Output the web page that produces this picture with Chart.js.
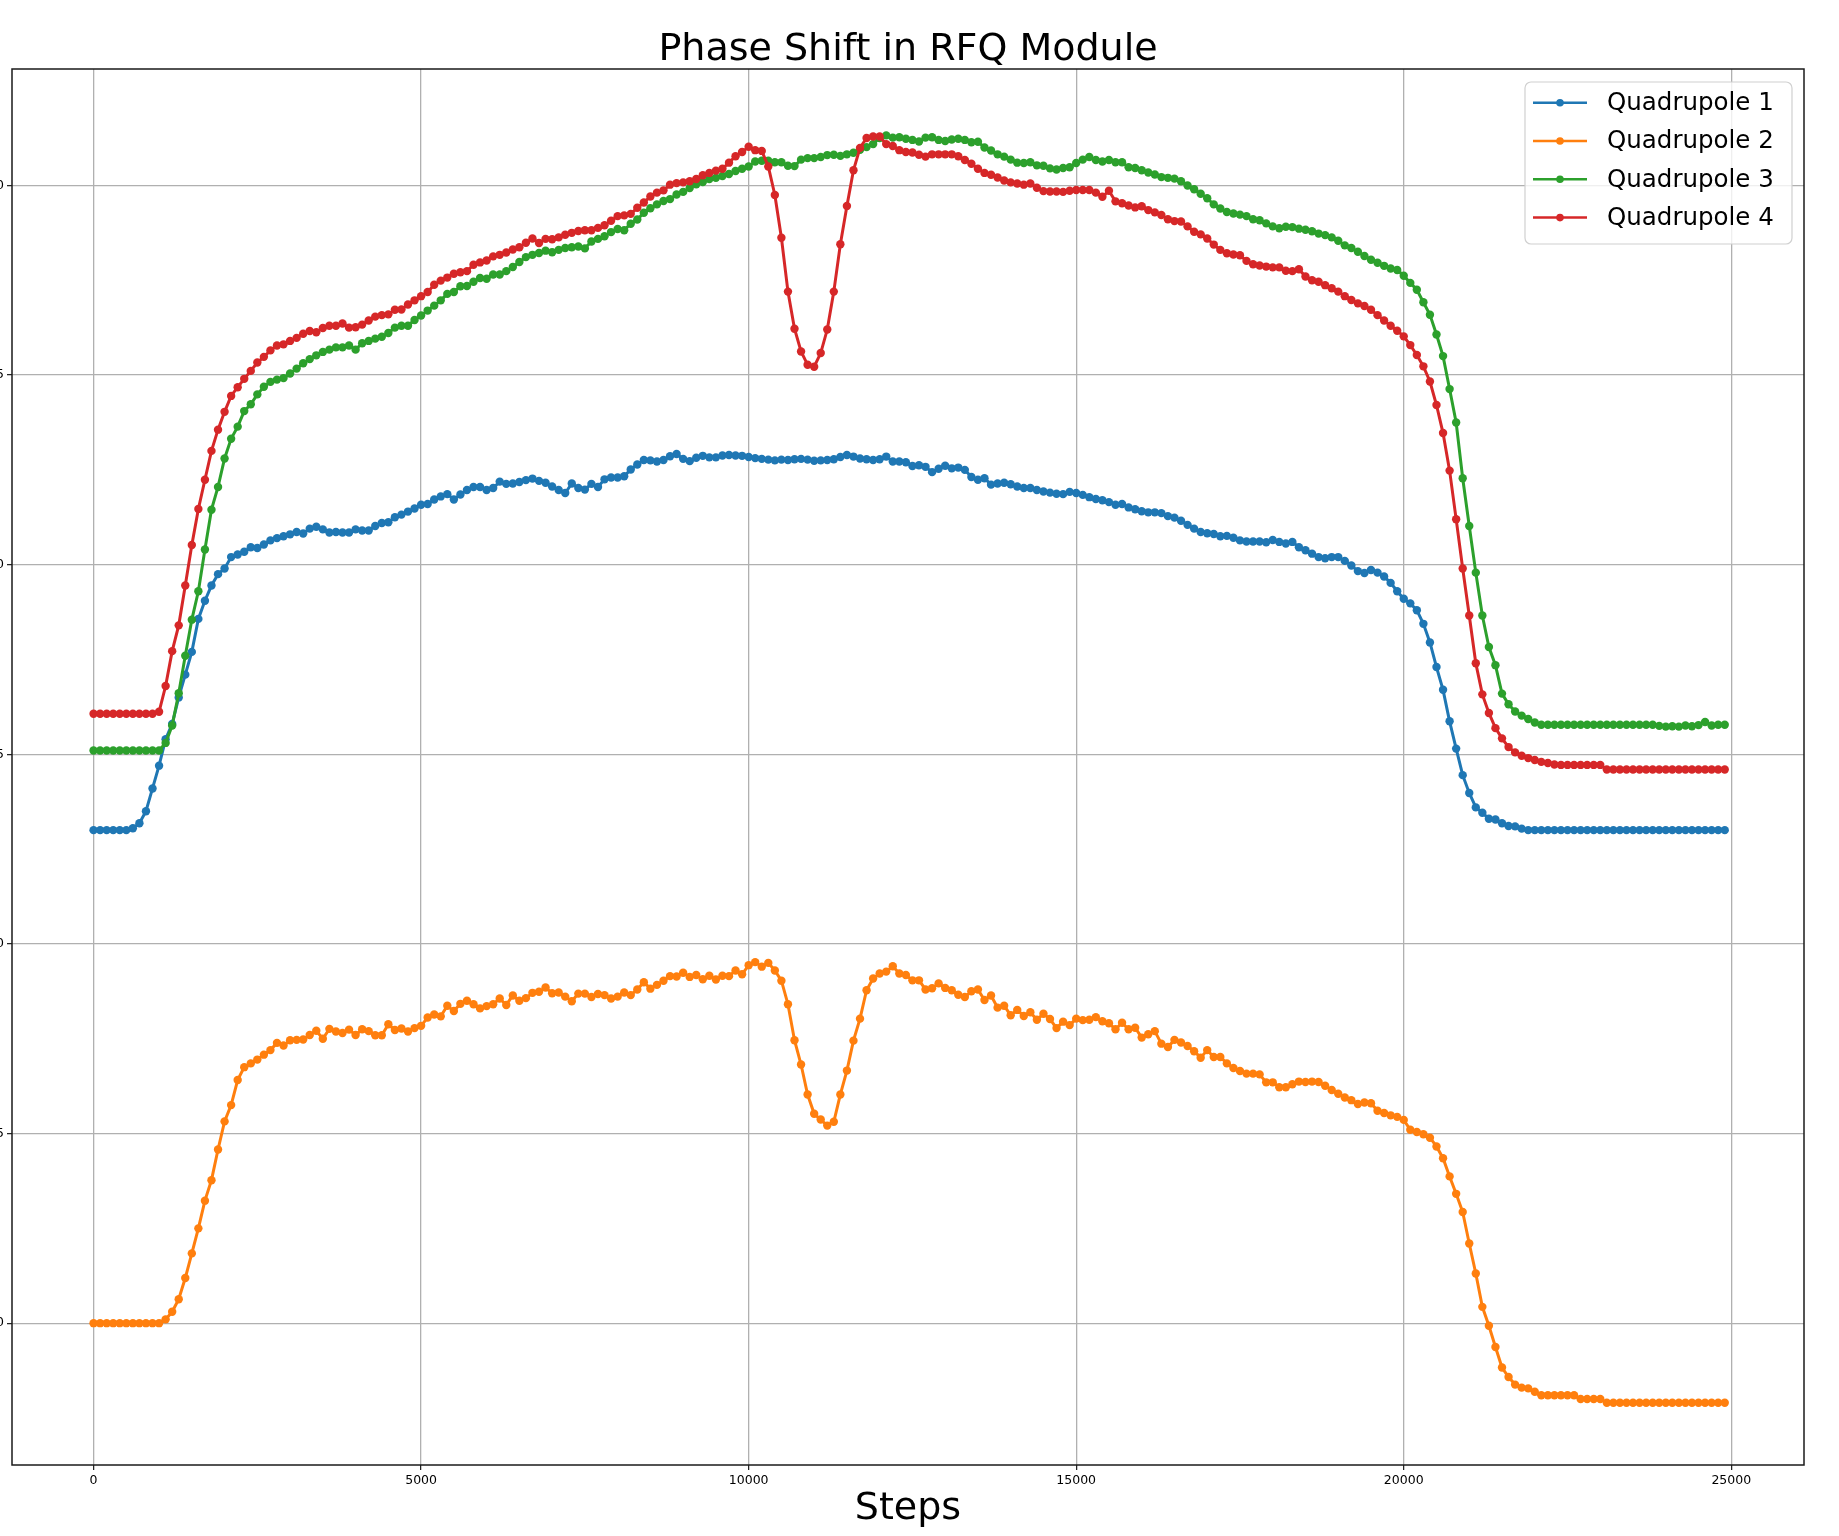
<!DOCTYPE html>
<html>
<head>
<meta charset="utf-8">
<title>Phase Shift in RFQ Module</title>
<script src="https://cdn.jsdelivr.net/npm/chart.js@4.4.1/dist/chart.umd.min.js"></script>
<style>
  html, body { margin: 0; padding: 0; background: #fff; overflow: hidden; }
  /* shifted left so the y tick labels are cut at the page edge, like the source image */
  #wrap { position: absolute; left: -48px; top: 0; width: 1887px; height: 1536px; }
</style>
</head>
<body>
<div id="wrap"><canvas id="chart"></canvas></div>
<script>
// ---- Data: one sample every STEP steps, starting at 0 ----
const STEP = 100;
const xTicks = [0, 5000, 10000, 15000, 20000, 25000];
const yTicks = [0, 5, 10, 15, 20, 25, 30];
const seriesNames = ['Quadrupole 1', 'Quadrupole 2', 'Quadrupole 3', 'Quadrupole 4'];
const seriesColors = ['#1f77b4', '#ff7f0e', '#2ca02c', '#d62728'];

const quad1 = [
  13.0,13.0,13.0,13.0,13.0,13.0,13.05,13.18,13.5,14.1,
  14.7,15.4,15.8,16.5,17.1,17.7,18.57,19.05,19.45,19.75,
  19.9,20.2,20.27,20.34,20.46,20.44,20.53,20.64,20.7,20.75,
  20.8,20.86,20.82,20.95,21.0,20.93,20.85,20.86,20.85,20.85,
  20.93,20.9,20.9,21.02,21.1,21.12,21.25,21.32,21.4,21.48,
  21.58,21.6,21.72,21.8,21.86,21.72,21.85,21.97,22.05,22.05,
  21.97,22.02,22.19,22.13,22.14,22.18,22.23,22.27,22.21,22.16,
  22.06,21.97,21.89,22.14,22.02,21.98,22.13,22.05,22.25,22.3,
  22.3,22.33,22.51,22.64,22.76,22.75,22.72,22.76,22.86,22.92,
  22.79,22.73,22.82,22.87,22.83,22.83,22.88,22.89,22.88,22.87,
  22.84,22.81,22.79,22.77,22.75,22.77,22.76,22.78,22.79,22.77,
  22.74,22.75,22.76,22.78,22.84,22.89,22.85,22.8,22.78,22.76,
  22.78,22.85,22.72,22.72,22.7,22.6,22.62,22.58,22.44,22.53,
  22.61,22.54,22.56,22.5,22.31,22.24,22.28,22.11,22.14,22.16,
  22.12,22.06,22.02,22.02,21.97,21.93,21.9,21.87,21.86,21.92,
  21.89,21.84,21.78,21.73,21.7,21.65,21.58,21.6,21.51,21.46,
  21.41,21.38,21.38,21.36,21.28,21.24,21.16,21.05,20.95,20.86,
  20.83,20.81,20.75,20.76,20.71,20.64,20.61,20.61,20.61,20.59,
  20.65,20.6,20.56,20.6,20.46,20.38,20.29,20.2,20.17,20.2,
  20.2,20.1,19.98,19.83,19.78,19.86,19.79,19.69,19.52,19.3,
  19.1,18.98,18.8,18.44,17.95,17.3,16.7,15.87,15.15,14.45,
  13.98,13.6,13.46,13.3,13.28,13.18,13.11,13.1,13.04,13.0,
  13.0,13.0,13.0,13.0,13.0,13.0,13.0,13.0,13.0,13.0,
  13.0,13.0,13.0,13.0,13.0,13.0,13.0,13.0,13.0,13.0,
  13.0,13.0,13.0,13.0,13.0,13.0,13.0,13.0,13.0,13.0
];

const quad2 = [
  0,0,0,0,0,0,0,0,0,0,
  0.0,0.1,0.3,0.63,1.19,1.84,2.5,3.23,3.77,4.58,
  5.32,5.75,6.41,6.75,6.85,6.95,7.08,7.2,7.39,7.32,
  7.46,7.47,7.48,7.6,7.71,7.5,7.76,7.69,7.65,7.74,
  7.6,7.75,7.7,7.59,7.59,7.88,7.73,7.77,7.69,7.78,
  7.84,8.06,8.14,8.09,8.37,8.23,8.42,8.5,8.41,8.3,
  8.36,8.41,8.56,8.39,8.64,8.5,8.57,8.71,8.74,8.85,
  8.7,8.72,8.61,8.49,8.69,8.69,8.6,8.68,8.65,8.56,
  8.61,8.72,8.65,8.8,8.99,8.82,8.92,9.03,9.15,9.14,
  9.24,9.13,9.18,9.07,9.16,9.06,9.16,9.15,9.3,9.2,
  9.44,9.52,9.4,9.5,9.3,9.03,8.41,7.46,6.82,6.03,
  5.52,5.37,5.21,5.31,6.03,6.66,7.45,8.03,8.78,9.09,
  9.22,9.27,9.41,9.22,9.18,9.04,9.04,8.8,8.83,8.96,
  8.84,8.78,8.66,8.6,8.75,8.8,8.52,8.64,8.32,8.37,
  8.12,8.26,8.1,8.2,8.0,8.16,8.02,7.78,7.95,7.86,
  8.03,7.99,8.0,8.07,7.96,7.91,7.75,7.92,7.75,7.79,
  7.53,7.62,7.7,7.37,7.28,7.47,7.4,7.31,7.17,7.0,
  7.2,7.02,7.02,6.85,6.73,6.65,6.58,6.58,6.56,6.35,
  6.35,6.22,6.22,6.3,6.37,6.36,6.37,6.36,6.26,6.15,
  6.05,5.95,5.88,5.78,5.82,5.8,5.6,5.54,5.48,5.44,
  5.36,5.1,5.04,4.98,4.89,4.66,4.35,3.87,3.41,2.93,
  2.1,1.31,0.43,-0.07,-0.63,-1.17,-1.42,-1.62,-1.7,-1.72,
  -1.81,-1.9,-1.9,-1.9,-1.9,-1.9,-1.9,-2.0,-2.0,-2.0,
  -2.0,-2.1,-2.1,-2.1,-2.1,-2.1,-2.1,-2.1,-2.1,-2.1,
  -2.1,-2.1,-2.1,-2.1,-2.1,-2.1,-2.1,-2.1,-2.1,-2.1
];

const quad3 = [
  15.1,15.1,15.1,15.1,15.1,15.1,15.1,15.1,15.1,15.1,
  15.1,15.3,15.76,16.61,17.6,18.55,19.3,20.4,21.45,22.05,
  22.8,23.32,23.64,24.05,24.23,24.49,24.69,24.82,24.88,24.92,
  25.04,25.17,25.31,25.42,25.52,25.61,25.67,25.73,25.73,25.78,
  25.67,25.84,25.9,25.96,26.01,26.11,26.25,26.3,26.3,26.45,
  26.57,26.7,26.83,26.97,27.14,27.19,27.34,27.35,27.46,27.56,
  27.54,27.65,27.65,27.74,27.85,27.98,28.11,28.17,28.22,28.28,
  28.24,28.3,28.35,28.37,28.39,28.34,28.52,28.59,28.66,28.77,
  28.85,28.82,28.99,29.1,29.28,29.4,29.5,29.59,29.64,29.76,
  29.83,29.93,30.03,30.09,30.17,30.2,30.25,30.3,30.38,30.44,
  30.5,30.63,30.65,30.65,30.61,30.61,30.52,30.51,30.68,30.72,
  30.72,30.75,30.8,30.81,30.78,30.82,30.86,30.94,31.01,31.09,
  31.25,31.32,31.26,31.27,31.23,31.2,31.16,31.26,31.27,31.2,
  31.17,31.21,31.23,31.2,31.14,31.15,31.0,30.92,30.82,30.76,
  30.68,30.6,30.59,30.61,30.53,30.52,30.45,30.42,30.46,30.48,
  30.59,30.68,30.75,30.67,30.63,30.67,30.61,30.61,30.48,30.46,
  30.4,30.34,30.29,30.22,30.2,30.18,30.11,30.0,29.9,29.78,
  29.66,29.5,29.39,29.3,29.26,29.23,29.19,29.11,29.08,29.0,
  28.92,28.87,28.91,28.9,28.86,28.83,28.79,28.73,28.69,28.63,
  28.54,28.42,28.35,28.25,28.14,28.04,27.96,27.88,27.81,27.77,
  27.62,27.43,27.25,26.92,26.59,26.07,25.5,24.63,23.75,22.28,
  21.02,19.79,18.66,17.83,17.35,16.6,16.32,16.13,16.02,15.93,
  15.84,15.78,15.78,15.78,15.78,15.78,15.78,15.78,15.78,15.78,
  15.78,15.78,15.78,15.78,15.78,15.78,15.78,15.78,15.78,15.75,
  15.73,15.74,15.73,15.76,15.74,15.77,15.85,15.76,15.78,15.78
];

const quad4 = [
  16.07,16.07,16.07,16.07,16.07,16.07,16.07,16.07,16.07,16.07,
  16.12,16.8,17.72,18.4,19.45,20.52,21.47,22.24,23.0,23.56,
  24.03,24.45,24.68,24.9,25.11,25.33,25.48,25.65,25.78,25.81,
  25.9,25.98,26.09,26.16,26.13,26.24,26.3,26.3,26.36,26.25,
  26.26,26.33,26.44,26.54,26.58,26.6,26.72,26.73,26.86,26.97,
  27.08,27.19,27.38,27.49,27.57,27.67,27.71,27.74,27.91,27.97,
  28.02,28.13,28.17,28.23,28.31,28.37,28.49,28.6,28.48,28.59,
  28.58,28.63,28.7,28.75,28.8,28.82,28.82,28.88,28.95,29.07,
  29.19,29.21,29.25,29.41,29.55,29.71,29.81,29.87,30.02,30.06,
  30.08,30.11,30.17,30.27,30.33,30.39,30.44,30.6,30.77,30.88,
  31.02,30.93,30.91,30.5,29.75,28.62,27.2,26.22,25.62,25.27,
  25.22,25.58,26.2,27.2,28.45,29.46,30.4,30.99,31.25,31.29,
  31.29,31.09,31.04,30.93,30.88,30.87,30.81,30.76,30.82,30.82,
  30.82,30.82,30.77,30.67,30.57,30.44,30.33,30.28,30.21,30.13,
  30.08,30.05,30.02,30.05,29.94,29.85,29.84,29.84,29.83,29.86,
  29.88,29.88,29.88,29.81,29.7,29.86,29.58,29.53,29.47,29.42,
  29.45,29.35,29.29,29.22,29.11,29.06,29.05,28.92,28.78,28.71,
  28.6,28.44,28.3,28.21,28.18,28.16,28.01,27.92,27.89,27.86,
  27.84,27.84,27.75,27.74,27.79,27.6,27.5,27.46,27.37,27.29,
  27.2,27.08,26.98,26.89,26.82,26.72,26.58,26.44,26.3,26.17,
  26.02,25.79,25.53,25.23,24.83,24.21,23.47,22.48,21.2,19.9,
  18.66,17.4,16.58,16.09,15.69,15.42,15.19,15.05,14.96,14.9,
  14.85,14.8,14.77,14.73,14.72,14.72,14.72,14.72,14.72,14.72,
  14.72,14.6,14.6,14.6,14.6,14.6,14.6,14.6,14.6,14.6,
  14.6,14.6,14.6,14.6,14.6,14.6,14.6,14.6,14.6,14.6
];

const allSeries = [quad1, quad2, quad3, quad4];

// ---- Style ----
const FONT = '"DejaVu Sans", "Liberation Sans", sans-serif';
const GRID = '#b0b0b0';
const POINT_R = 4.2;
const LINE_W = 3;

Chart.defaults.font.family = FONT;
Chart.defaults.color = '#000';

// axes frame, title and a matplotlib-like legend (line + marker)
const mplDecor = {
  id: 'mplDecor',
  afterDraw(chart) {
    const { ctx, chartArea: a } = chart;
    ctx.save();

    ctx.strokeStyle = '#1a1a1a';
    ctx.lineWidth = 1.5;
    ctx.strokeRect(a.left, a.top, a.right - a.left, a.bottom - a.top);

    ctx.fillStyle = '#000';
    ctx.font = '38px ' + FONT;
    ctx.textAlign = 'center';
    ctx.textBaseline = 'alphabetic';
    ctx.fillText('Phase Shift in RFQ Module', (a.left + a.right) / 2, 60);

    const w = 267, h = 162;
    const x0 = a.right - 12 - w, y0 = a.top + 13;
    ctx.beginPath();
    ctx.roundRect(x0, y0, w, h, 6);
    ctx.fillStyle = 'rgba(255,255,255,0.8)';
    ctx.fill();
    ctx.strokeStyle = '#d0d0d0';
    ctx.lineWidth = 1.2;
    ctx.stroke();

    ctx.font = '24.5px ' + FONT;
    ctx.textAlign = 'left';
    ctx.textBaseline = 'middle';
    seriesNames.forEach((name, i) => {
      const y = y0 + 20.7 + i * 38.3;
      ctx.strokeStyle = seriesColors[i];
      ctx.lineWidth = 2.5;
      ctx.beginPath();
      ctx.moveTo(x0 + 8, y);
      ctx.lineTo(x0 + 62, y);
      ctx.stroke();
      ctx.fillStyle = seriesColors[i];
      ctx.beginPath();
      ctx.arc(x0 + 35, y, 3.8, 0, Math.PI * 2);
      ctx.fill();
      ctx.fillStyle = '#000';
      ctx.fillText(name, x0 + 82, y + 1);
    });
    ctx.restore();
  }
};

const datasets = allSeries.map((vals, i) => ({
  label: seriesNames[i],
  data: vals.map((v, k) => ({ x: k * STEP, y: v })),
  borderColor: seriesColors[i],
  backgroundColor: seriesColors[i],
  borderWidth: LINE_W,
  pointRadius: POINT_R,
  pointBorderWidth: 0,
  pointBackgroundColor: seriesColors[i],
  tension: 0,
  order: 3 - i   // Quadrupole 4 drawn on top, as in the source
}));

new Chart(document.getElementById('chart'), {
  type: 'line',
  data: { datasets },
  plugins: [mplDecor],
  options: {
    responsive: true,
    maintainAspectRatio: false,
    animation: false,
    parsing: false,
    layout: { padding: { left: 0, right: 35, top: 69, bottom: 0 } },
    plugins: {
      legend: { display: false },
      tooltip: { enabled: false },
      title: { display: false }
    },
    scales: {
      x: {
        type: 'linear',
        min: -1245,
        max: 26110,
        afterBuildTicks: s => { s.ticks = xTicks.map(v => ({ value: v })); },
        afterFit: s => { s.height = 71; },
        ticks: {
          font: { size: 12.5 },
          color: '#000',
          padding: 3,
          maxRotation: 0,
          callback: v => String(v)
        },
        grid: { color: GRID, lineWidth: 1.3, tickLength: 5, tickColor: '#1a1a1a', tickWidth: 1.2 },
        border: { display: false },
        title: {
          display: true,
          text: 'Steps',
          font: { size: 38 },
          color: '#000',
          padding: { top: 0, bottom: 4 }
        }
      },
      y: {
        type: 'linear',
        min: -3.74,
        max: 33.07,
        afterBuildTicks: s => { s.ticks = yTicks.map(v => ({ value: v })); },
        afterFit: s => { s.width = 60; },
        ticks: {
          font: { size: 12.5 },
          color: '#000',
          padding: 3,
          callback: v => String(v)
        },
        grid: { color: GRID, lineWidth: 1.3, tickLength: 5, tickColor: '#1a1a1a', tickWidth: 1.2 },
        border: { display: false }
      }
    }
  }
});
</script>
</body>
</html>
